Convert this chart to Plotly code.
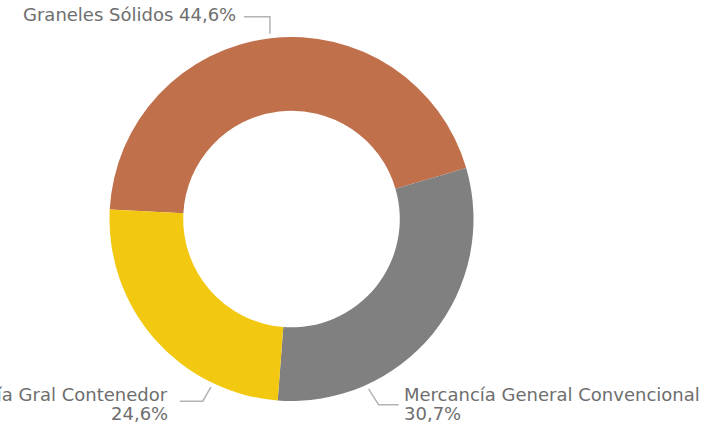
import math
import plotly.graph_objects as go

# ---- data ----
categories = ["Graneles Sólidos", "Mercancía General Convencional", "Mercancía Gral Contenedor"]
shares = [44.6, 30.7, 24.6]
label_lines = [["Graneles Sólidos 44,6%"],
               ["Mercancía General Convencional", "30,7%"],
               ["Mercancía Gral Contenedor", "24,6%"]]
colors = ["#C0714C", "#808080", "#F2C811"]

# ---- layout constants (pixels) ----
W, H = 726, 428
CX, CY, R = 291.5, 219.0, 182.0
HOLE = 0.595
ROTATION = -87  # degrees clockwise from 12 o'clock where first slice starts

def px(x, y):
    return x / W, 1 - y / H

fig = go.Figure(go.Pie(
    labels=categories,
    values=shares,
    hole=HOLE,
    sort=False,
    direction="clockwise",
    rotation=ROTATION,
    marker=dict(colors=colors, line=dict(color="white", width=0)),
    textinfo="none",
    hoverinfo="label+percent",
    showlegend=False,
    domain=dict(x=[(CX - R) / W, (CX + R) / W], y=[1 - (CY + R) / H, 1 - (CY - R) / H]),
))

# leader lines anchored on slices: (fraction within slice, elbow offsets, end offsets)
anchor_frac = [0.5, 0.74, 0.24]
elbows = [((0, -17), (-26, -17)), ((10, 16), (30, 16)), ((-8, 14), (-31, 14))]
total = sum(shares)
start = ROTATION
line_color = "#B3B3B3"
for i, v in enumerate(shares):
    span = v / total * 360
    a = math.radians(start + anchor_frac[i] * span)
    ax = CX + 1.025 * R * math.sin(a)
    ay = CY - 1.025 * R * math.cos(a)
    (e1x, e1y), (e2x, e2y) = elbows[i]
    p0 = px(ax, ay)
    p1 = px(ax + e1x, ay + e1y)
    p2 = px(ax + e2x, ay + e2y)
    fig.add_shape(type="path", xref="paper", yref="paper",
                  path=f"M {p0[0]},{p0[1]} L {p1[0]},{p1[1]} L {p2[0]},{p2[1]}",
                  line=dict(color=line_color, width=1.5))
    start += span

font = dict(family="DejaVu Sans, sans-serif", size=18, color="#6E6E6E")
LINE_PITCH = 19
# label placement (first line centre)
ann = [
    dict(x=237, y=15, xanchor="right"),
    dict(x=403, y=394, xanchor="left"),
    dict(x=169, y=394, xanchor="right"),
]
for lines, a in zip(label_lines, ann):
    for k, t in enumerate(lines):
        x, y = px(a["x"], a["y"] + k * LINE_PITCH)
        fig.add_annotation(x=x, y=y, xref="paper", yref="paper", text=t, showarrow=False,
                           xanchor=a["xanchor"], yanchor="middle", font=font,
                           borderpad=0)

fig.update_layout(
    width=W, height=H,
    margin=dict(l=0, r=0, t=0, b=0),
    paper_bgcolor="white", plot_bgcolor="white",
)

fig.write_html("out.html", config={"displayModeBar": False},
               post_script="document.body.style.margin='0';")
